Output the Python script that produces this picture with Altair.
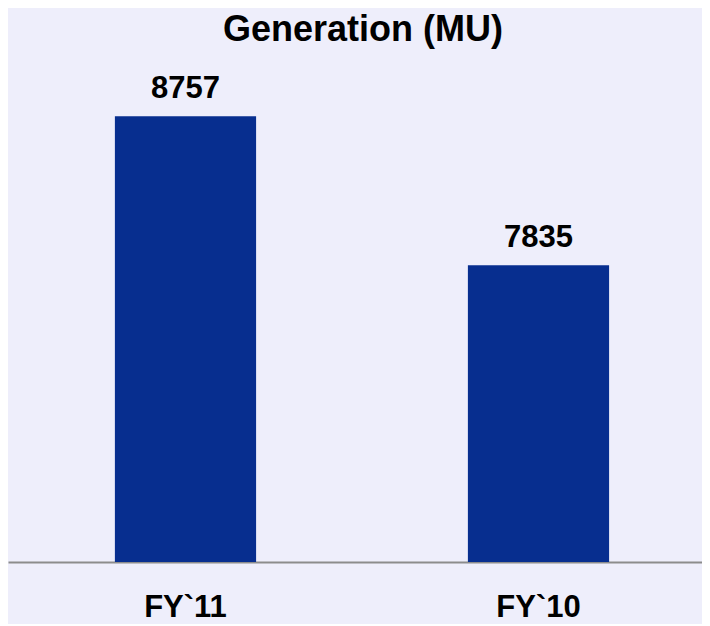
import altair as alt
import pandas as pd

categories = ["FY`11", "FY`10"]
values = [8757, 7835]

df = pd.DataFrame({"year": categories, "gen": values})

FONT = "Liberation Sans"

base = alt.Chart(df).encode(
    x=alt.X(
        "year:N",
        sort=categories,
        scale=alt.Scale(paddingInner=0.6, paddingOuter=0.283, align=0.535),
        axis=alt.Axis(
            title=None,
            ticks=False,
            tickSize=0,
            labelAngle=0,
            labelFont=FONT,
            labelFontSize=31,
            labelFontWeight="bold",
            labelColor="#000000",
            labelBaseline="alphabetic",
            labelPadding=54,
            domainColor="#8C8C8C",
            domainWidth=2,
            grid=False,
        ),
    ),
    y=alt.Y(
        "gen:Q",
        scale=alt.Scale(domain=[6000, 9000], nice=False, zero=False),
        axis=None,
    ),
)

bars = base.mark_bar(color="#072E8F").encode(y2=alt.datum(6000))
labels = base.mark_text(
    baseline="alphabetic",
    dy=-18,
    font=FONT,
    fontSize=31,
    fontWeight="bold",
    color="#000000",
).encode(text="gen:Q")

chart = (
    (bars + labels)
    .properties(
        width=694,
        height=485,
        title=alt.TitleParams(
            "Generation (MU)",
            font=FONT,
            fontSize=36,
            fontWeight="bold",
            color="#000000",
            anchor="middle",
            dx=8,
            offset=24,
        ),
        autosize=alt.AutoSizeParams(type="none"),
        padding={"left": 0, "right": 0, "top": 69, "bottom": 62},
        background="#EEEEFB",
    )
    .configure_view(stroke=None)
)

chart.save("out.html", embed_options={"renderer": "svg", "actions": False})
